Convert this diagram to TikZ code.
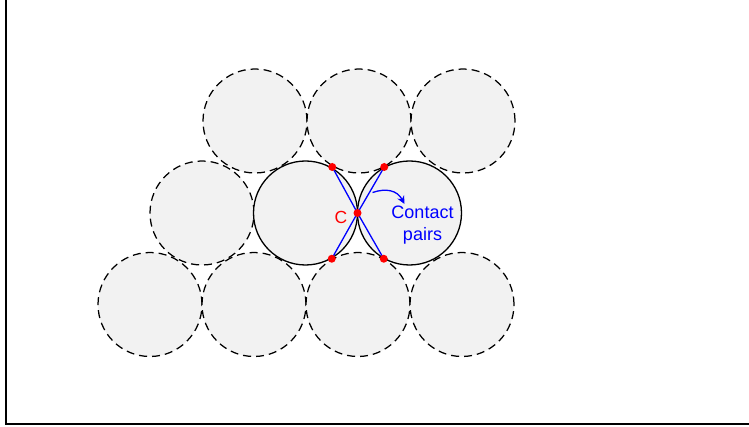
\documentclass[tikz,border=0pt]{standalone}
\usepackage{fontspec}
\setmainfont{Liberation Sans}
\usetikzlibrary{arrows.meta,calc}
\definecolor{ballfill}{RGB}{242,242,242}
\definecolor{cblue}{RGB}{0,0,255}
\definecolor{cred}{RGB}{255,0,0}
\tikzset{
  ball/.style={circle, inner sep=0pt, minimum size=104pt, fill=ballfill, draw=black, line width=1.25pt, dash pattern=on 8pt off 5pt},
  mainball/.style={circle, inner sep=0pt, minimum size=104pt, fill=ballfill, draw=black, line width=1.3pt},
  contactdot/.style={circle, fill=cred, inner sep=0pt, minimum size=8pt},
  pairline/.style={draw=cblue, line width=1.3pt},
  frameline/.style={line width=2.2pt, draw=black}
}
\begin{document}
\begin{tikzpicture}[x=1pt,y=-1pt]
\useasboundingbox (0,0) rectangle (749,427);
% frame
\coordinate (ftl) at (6,0);
\coordinate (fbl) at (6,423.8);
\coordinate (fbr) at (749,423.8);
\draw[frameline] (ftl) -- (fbl) -- (fbr);
% dashed balls
\node[ball] (t1) at (255,121) {};
\node[ball] (t2) at (359,121) {};
\node[ball] (t3) at (463,121) {};
\node[ball] (m1) at (202,213) {};
\node[ball] (b1) at (150,304.5) {};
\node[ball] (b2) at (254,304.5) {};
\node[ball] (b3) at (358,304.5) {};
\node[ball] (b4) at (462,304.5) {};
% solid balls
\node[mainball] (m2) at (305.5,213) {};
\node[mainball] (m3) at (409.5,213) {};
% contact points
\coordinate (pc) at ($(m2)!0.5!(m3)$);
\coordinate (p1) at ($(m2)!0.5!(t2)$);
\coordinate (p2) at ($(m3)!0.5!(t2)$);
\coordinate (p3) at ($(m2)!0.5!(b3)$);
\coordinate (p4) at ($(m3)!0.5!(b3)$);
\draw[pairline] (p1) -- (pc) -- (p4);
\draw[pairline] (p2) -- (pc) -- (p3);
\node[contactdot] (dc) at (pc) {};
\node[contactdot] (d1) at (p1) {};
\node[contactdot] (d2) at (p2) {};
\node[contactdot] (d3) at (p3) {};
\node[contactdot] (d4) at (p4) {};
% labels
\node[text=cred, font=\fontsize{17.5}{20}\selectfont, inner sep=0pt] (clabel) at (341,217) {C};
\node[text=cblue, font=\fontsize{18}{22}\selectfont, align=center, inner sep=0pt] (cplabel) at (422.5,225) {Contact\\pairs};
\coordinate (as) at (372.5,192.5);
\coordinate (ae) at (404.5,204);
\draw[cblue, line width=1.3pt, -{Stealth[length=8pt,width=7.5pt]}] (as) .. controls (386,188) and (397,190) .. (ae);
\end{tikzpicture}
\end{document}
